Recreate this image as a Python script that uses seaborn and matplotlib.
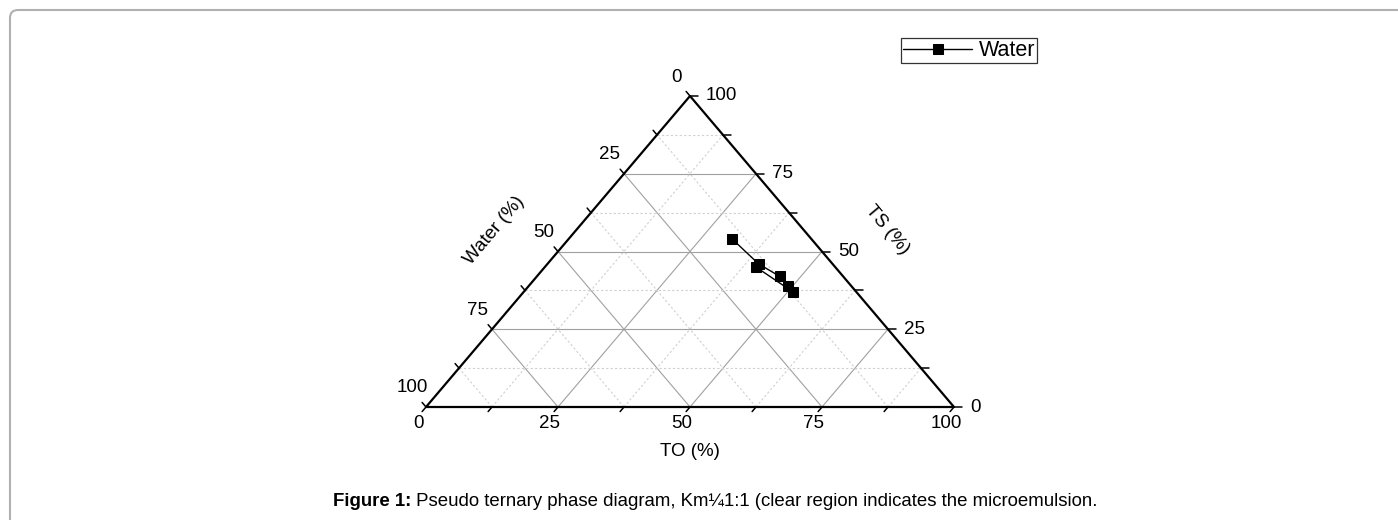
import numpy as np
import pandas as pd
import matplotlib
matplotlib.use('Agg')
import matplotlib.pyplot as plt
import seaborn as sns
from matplotlib.patches import FancyBboxPatch

sns.set_style('white')
plt.rcParams['font.family'] = ['Liberation Sans', 'DejaVu Sans']
plt.rcParams['text.color'] = 'black'

# ternary data (percent)
to_vals = [31.0, 40.0, 46.0, 49.0, 51.0, 40.0]
ts_vals = [54.0, 46.0, 42.0, 39.0, 37.0, 45.0]
water_vals = [15.0, 14.0, 12.0, 12.0, 12.0, 15.0]
series_name = 'Water'
tick_vals = [0, 25, 50, 75, 100]
minor_vals = [12.5, 37.5, 62.5, 87.5]
caption_bold = 'Figure 1:'
caption_rest = ' Pseudo ternary phase diagram, Km\u00bc1:1 (clear region indicates the microemulsion.'

# triangle placement in figure pixels
X0, Y0, W, H = 426, 407, 528, 311


def tern(to, ts):
    to = np.asarray(to, dtype=float)
    ts = np.asarray(ts, dtype=float)
    return X0 + W * (to / 100 + ts / 200), Y0 - H * ts / 100


fig = plt.figure(figsize=(13.98, 5.2), dpi=100)
ax = fig.add_axes([0, 0, 1, 1])
ax.set_xlim(0, 1398)
ax.set_ylim(520, 0)
ax.axis('off')

# outer frame
frame = FancyBboxPatch((10, 10), 1420, 540, boxstyle='round,pad=0,rounding_size=8',
                       fill=False, ec='#b0b0b0', lw=1.5)
ax.add_patch(frame)

# grid lines
for v, ls, col in [(m, '-', '#a0a0a0') for m in tick_vals[1:-1]] + [(m, (0, (2, 2)), '#d0d0d0') for m in minor_vals]:
    # TS constant (horizontal)
    xs, ys = tern([0, 100 - v], [v, v])
    ax.plot(xs, ys, ls=ls, color=col, lw=0.8, zorder=1)
    # TO constant
    xs, ys = tern([v, v], [0, 100 - v])
    ax.plot(xs, ys, ls=ls, color=col, lw=0.8, zorder=1)
    # Water constant
    xs, ys = tern([100 - v, 0], [0, 100 - v])
    ax.plot(xs, ys, ls=ls, color=col, lw=0.8, zorder=1)

# triangle edges
xs, ys = tern([0, 100, 0, 0], [0, 0, 100, 0])
ax.plot(xs, ys, color='black', lw=1.6, zorder=3)

# ticks and labels
all_t = sorted(tick_vals + minor_vals)
dl = np.array([-0.647, 0.762])   # down-left direction
ul = np.array([-0.647, -0.762])  # up-left direction
for v in all_t:
    # bottom axis (TO)
    bx, by = tern(v, 0)
    ax.plot([bx, bx + 6 * dl[0]], [by, by + 6 * dl[1]], color='black', lw=1.1, zorder=3)
    # right axis (TS)
    rx, ry = tern(100 - v, v)
    ax.plot([rx, rx + 8], [ry, ry], color='black', lw=1.1, zorder=3)
    # left axis (Water)
    lx, ly = tern(0, 100 - v)
    ax.plot([lx, lx + 6 * ul[0]], [ly, ly + 6 * ul[1]], color='black', lw=1.1, zorder=3)

fs = 13.5
for v in tick_vals:
    bx, by = tern(v, 0)
    ax.text(bx - 8, by + 16, str(v), ha='center', va='center', fontsize=fs)
    rx, ry = tern(100 - v, v)
    ax.text(rx + 16, ry, str(v), ha='left', va='center', fontsize=fs)
    lx, ly = tern(0, 100 - v)
    ax.text(lx - 14, ly - 19, str(v), ha='center', va='center', fontsize=fs)

ax.text(690, 451, 'TO (%)', ha='center', va='center', fontsize=fs)
ax.text(887, 230, 'TS (%)', ha='center', va='center', fontsize=fs, rotation=-50)
ax.text(494, 231, 'Water (%)', ha='center', va='center', fontsize=fs, rotation=50)

# data series
px, py = tern(to_vals, ts_vals)
df = pd.DataFrame({'x': px, 'y': py, 'water': water_vals, 'series': series_name})
sns.lineplot(data=df, x='x', y='y', hue='series', palette=['black'], sort=False,
             estimator=None, marker='s', markersize=7.5, markeredgecolor='black',
             lw=1.0, ax=ax, zorder=4)
ax.set_xlim(0, 1398)
ax.set_ylim(520, 0)
ax.axis('off')

leg = ax.legend(loc='upper left', bbox_to_anchor=(901 / 1398, 1 - 38 / 520), frameon=True,
                fancybox=False, edgecolor='black', fontsize=15.5, handlelength=3.2,
                borderpad=0.1, handletextpad=0.3, borderaxespad=0, markerscale=0.9)
leg.get_frame().set_linewidth(0.9)
for t in leg.get_texts():
    t.set_color('black')

# caption
t1 = ax.text(333, 501, caption_bold, ha='left', va='center', fontsize=13.4, fontweight='bold')
fig.canvas.draw()
bb = t1.get_window_extent()
ax.text(333 + bb.width, 501, caption_rest, ha='left', va='center', fontsize=13.4)

fig.savefig('out.png', dpi=100)
